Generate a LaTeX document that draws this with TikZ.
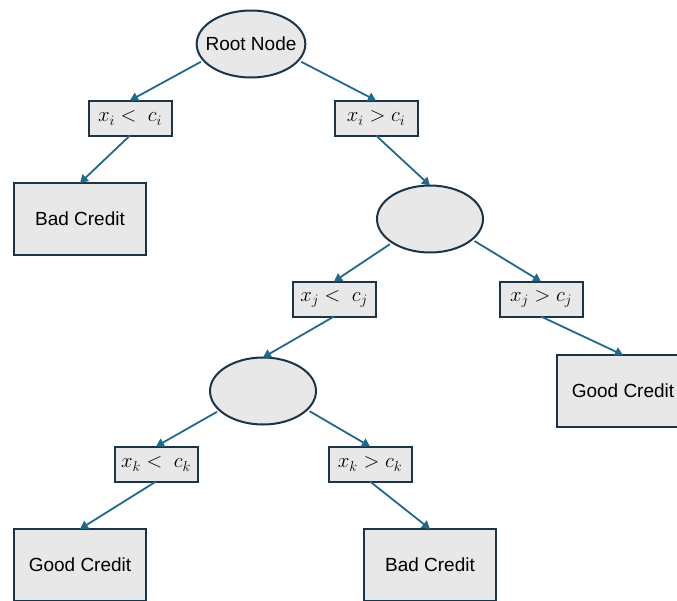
\documentclass[tikz,border=0pt]{standalone}
\usepackage{fontspec}
\setmainfont{Liberation Sans}
\usetikzlibrary{shapes.geometric,arrows.meta}

\definecolor{edgeblue}{HTML}{21698C}
\definecolor{outline}{HTML}{1C3447}
\definecolor{nodefill}{HTML}{E8E8E8}

\tikzset{
  base/.style={draw=outline, fill=nodefill, line width=2pt, inner sep=0pt, outer sep=0pt,
    font=\fontsize{19}{22}\selectfont},
  splitnode/.style={base, ellipse, minimum width=106pt, minimum height=67pt},
  testbox/.style={base, rectangle, minimum width=83pt, minimum height=35pt,
    font=\fontsize{20}{22}\selectfont},
  leafbox/.style={base, rectangle, minimum width=132pt, minimum height=72pt},
  branch/.style={draw=edgeblue, line width=1.8pt, -{Triangle[length=8pt,width=9pt]}},
}

\begin{document}
\begin{tikzpicture}[x=1pt, y=-1pt]
  \useasboundingbox (0,0) rectangle (677,600);
  \clip (0,0) rectangle (677,600);

  % split nodes
  \node[splitnode, inner xsep=-7pt] (root) at (251,44) {Root Node};
  \node[splitnode] (s1) at (430,219) {};
  \node[splitnode] (s2) at (263,391) {};

  % threshold tests
  \node[testbox] (ti1) at (130,118) {$x_i <\ c_i$};
  \node[testbox] (ti2) at (376,118) {$x_i > c_i$};
  \node[testbox] (tj1) at (334,299) {$x_j <\ c_j$};
  \node[testbox] (tj2) at (541,299) {$x_j > c_j$};
  \node[testbox] (tk1) at (156,464) {$x_k <\ c_k$};
  \node[testbox] (tk2) at (370,464) {$x_k > c_k$};

  % leaves
  \node[leafbox] (l1) at (80,219) {Bad Credit};
  \node[leafbox] (l2) at (623,391) {Good Credit};
  \node[leafbox] (l3) at (80,565) {Good Credit};
  \node[leafbox] (l4) at (430,565) {Bad Credit};

  % branches
  \draw[branch, shorten <=3pt] (root.199) -- (ti1.north);
  \draw[branch, shorten <=3pt] (root.341) -- (ti2.north);
  \draw[branch] (ti1.south) -- (l1.north);
  \draw[branch] (ti2.south) -- (s1.north);
  \draw[branch, shorten <=3pt] (s1.212) -- (tj1.north);
  \draw[branch, shorten <=3pt] (s1.334) -- (tj2.north);
  \draw[branch] (tj1.south) -- (s2.north);
  \draw[branch] (tj2.south) -- (l2.north);
  \draw[branch, shorten <=3pt] (s2.204) -- (tk1.north);
  \draw[branch, shorten <=3pt] (s2.337) -- (tk2.north);
  \draw[branch] (tk1.south) -- (l3.north);
  \draw[branch] (tk2.south) -- (l4.north);
\end{tikzpicture}
\end{document}
